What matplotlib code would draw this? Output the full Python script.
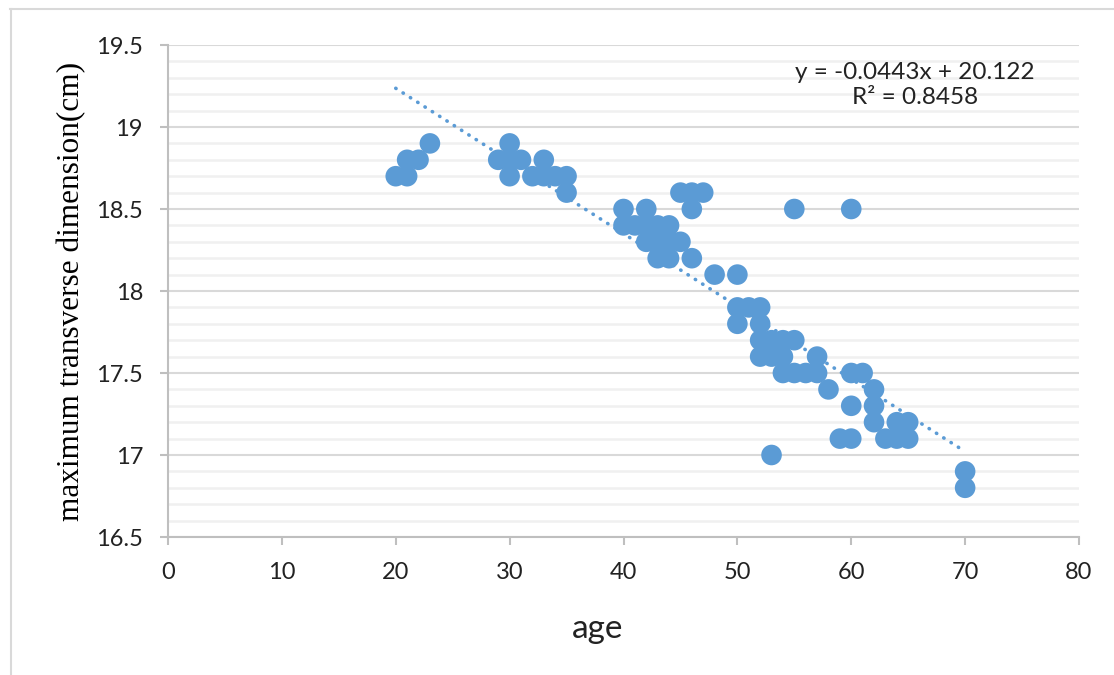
import matplotlib.pyplot as plt
from matplotlib.lines import Line2D
from matplotlib.ticker import MultipleLocator

# age (years) and maximum transverse dimension (cm)
age = [20, 21, 21, 22, 23,
       29, 30, 30, 30, 31, 32, 33, 33, 34, 35, 35,
       40, 40, 41, 42, 42, 42, 43, 43, 43, 44, 44, 44, 45, 45,
       46, 46, 46, 47, 48, 50, 50, 50, 51, 52, 52, 52, 52,
       53, 53, 53, 54, 54, 54, 55, 55, 55, 56, 57, 57, 58, 59,
       60, 60, 60, 60, 61, 62, 62, 62, 63, 64, 64, 65, 65, 70, 70]
dim = [18.7, 18.8, 18.7, 18.8, 18.9,
       18.8, 18.9, 18.8, 18.7, 18.8, 18.7, 18.8, 18.7, 18.7, 18.7, 18.6,
       18.5, 18.4, 18.4, 18.5, 18.4, 18.3, 18.4, 18.3, 18.2, 18.4, 18.3, 18.2, 18.6, 18.3,
       18.6, 18.5, 18.2, 18.6, 18.1, 18.1, 17.9, 17.8, 17.9, 17.9, 17.8, 17.7, 17.6,
       17.7, 17.6, 17.0, 17.7, 17.6, 17.5, 18.5, 17.7, 17.5, 17.5, 17.6, 17.5, 17.4, 17.1,
       18.5, 17.5, 17.3, 17.1, 17.5, 17.4, 17.3, 17.2, 17.1, 17.2, 17.1, 17.2, 17.1, 16.9, 16.8]

slope = -0.0443
intercept = 20.122
r2 = 0.8458
trend_x = [20, 70]

blue = '#5B9BD5'
W, H = 1114, 675

fig = plt.figure(figsize=(W / 100, H / 100), dpi=100)

# chart frame (only top and left edges show in the cropped picture)
fig.add_artist(Line2D([10 / W, 1], [1 - 9 / H, 1 - 9 / H], color='#d9d9d9', linewidth=1.5))
fig.add_artist(Line2D([11 / W, 11 / W], [0, 1 - 9 / H], color='#d9d9d9', linewidth=1.5))

ax = fig.add_axes([168 / W, 1 - 537 / H, (1079 - 168) / W, (537 - 45) / H])

ax.set_xlim(0, 80)
ax.set_ylim(16.5, 19.5)
ax.xaxis.set_major_locator(MultipleLocator(10))
ax.yaxis.set_major_locator(MultipleLocator(0.5))
ax.yaxis.set_minor_locator(MultipleLocator(0.1))

ax.grid(axis='y', which='minor', color='#f0f0f0', linewidth=1.8)
ax.grid(axis='y', which='major', color='#d9d9d9', linewidth=1.5)
ax.set_axisbelow(True)

for s in ['top', 'right']:
    ax.spines[s].set_visible(False)
for s in ['left', 'bottom']:
    ax.spines[s].set_color('#bfbfbf')
    ax.spines[s].set_linewidth(1.5)

ax.tick_params(axis='both', which='major', color='#bfbfbf', length=6, width=1.5,
               labelsize=17, labelcolor='#222222', pad=12)
ax.tick_params(axis='y', which='minor', length=0)
ax.set_yticks(ax.get_yticks(), [f'{v:g}' for v in ax.get_yticks()], family='Lato')
ax.set_xticks(ax.get_xticks(), [f'{v:g}' for v in ax.get_xticks()], family='Lato')
ax.set_xlim(0, 80)
ax.set_ylim(16.5, 19.5)

ax.scatter(age, dim, s=220, color=blue, edgecolors='none', zorder=3)

trend_y = [slope * x + intercept for x in trend_x]
ax.plot(trend_x, trend_y, linestyle=(0, (0.1, 2.3)), dash_capstyle='round',
        color=blue, linewidth=2.6, zorder=2)

ax.text(0.82, 0.919, f'y = {slope}x + {intercept}\nR² = {r2}', transform=ax.transAxes,
        ha='center', va='center', fontsize=17.5, family='Lato', color='#222222', linespacing=1.2)

ax.set_xlabel('age', fontsize=24, family='Lato', color='#222222')
ax.xaxis.set_label_coords((598 - 168) / 911, (537 - 614) / 492)
ax.set_ylabel('maximum transverse dimension(cm)', fontsize=22.5, family='Liberation Serif')
ax.yaxis.set_label_coords((86 - 168) / 911, 0.5)

plt.savefig('out.png', dpi=100)
